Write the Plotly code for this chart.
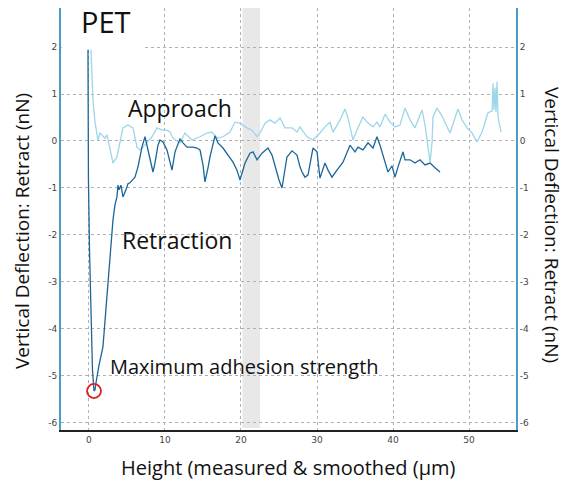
import plotly.graph_objects as go

# Retraction curve (Height in um, Vertical deflection in nN)
retract_x = [-0.13, -0.07, 0.07, 0.26, 0.46, 0.66, 0.79, 0.92, 1.05, 1.32, 1.84, 2.24, 2.50, 2.76,
             3.16, 3.42, 3.68, 3.82, 3.95, 4.21, 4.34, 4.47, 4.87, 5.13, 5.39, 5.79, 6.05, 6.45,
             6.71, 6.97, 7.37, 7.63, 8.03, 8.42, 8.68, 9.08, 9.34, 9.74, 10.26, 10.66, 10.92,
             11.32, 11.97, 12.37, 12.89, 13.29, 13.68, 14.21, 14.61, 15.00, 15.26, 15.66, 15.92,
             16.58, 16.97, 17.63, 18.29, 18.95, 19.47, 19.87, 20.53, 21.18, 21.58, 22.11, 22.76,
             23.55, 24.08, 24.47, 25.00, 25.39, 26.05, 26.71, 27.37, 27.76, 28.03, 28.42, 28.82,
             29.47, 30.00, 30.39, 31.05, 31.45, 31.97, 32.63, 33.42, 34.34, 35.00, 35.39, 36.05,
             36.71, 37.37, 37.89, 38.29, 38.95, 39.34, 39.87, 40.26, 40.66, 41.32, 41.58, 42.24,
             42.89, 43.55, 44.21, 44.87, 45.53, 46.18]
retract_y = [1.94, -0.83, -2.32, -3.81, -4.87, -5.32, -5.30, -5.15, -5.02, -4.77, -4.38, -3.60,
             -2.96, -2.57, -1.68, -1.36, -1.19, -0.94, -1.04, -0.94, -1.04, -1.19, -1.04, -0.91,
             -0.89, -0.83, -0.77, -0.55, -0.30, -0.13, 0.09, -0.09, -0.34, -0.66, -0.47, -0.09,
             0.02, -0.02, -0.19, -0.45, -0.62, -0.23, 0.04, -0.04, -0.13, -0.13, -0.13, -0.15,
             -0.19, -0.51, -0.87, -0.57, -0.34, 0.11, -0.04, -0.15, -0.30, -0.45, -0.62, -0.83,
             -0.47, -0.26, -0.23, -0.40, -0.26, -0.15, -0.30, -0.55, -0.83, -1.00, -0.34, -0.21,
             -0.30, -0.55, -0.66, -0.77, -0.72, -0.15, -0.23, -0.79, -0.47, -0.62, -0.77, -0.62,
             -0.45, -0.09, -0.23, -0.13, -0.19, -0.04, -0.15, 0.09, -0.09, -0.45, -0.66, -0.53,
             -0.77, -0.55, -0.23, -0.40, -0.40, -0.47, -0.40, -0.51, -0.47, -0.57, -0.66]

# Approach curve
approach_x = [0.26, 0.39, 0.53, 0.79, 1.05, 1.18, 1.45, 1.71, 2.11, 2.37, 2.76, 3.16, 3.68, 4.08,
              4.47, 5.13, 5.79, 6.32, 6.71, 7.11, 7.63, 8.29, 8.95, 9.61, 10.26, 10.66, 11.05,
              11.97, 12.63, 13.55, 14.61, 15.53, 16.18, 16.84, 17.63, 18.55, 19.21, 19.87, 20.79,
              21.45, 22.11, 22.50, 23.16, 23.82, 24.47, 25.13, 25.79, 26.71, 27.37, 27.76, 28.68,
              29.47, 30.39, 31.05, 31.71, 32.11, 33.03, 33.68, 34.08, 34.74, 35.39, 36.05, 36.71,
              37.37, 37.89, 38.29, 38.95, 39.61, 40.26, 40.92, 41.58, 42.24, 42.89, 43.82, 44.21,
              44.61, 44.87, 45.13, 45.26, 45.79, 46.45, 47.50, 48.55, 49.08, 49.74, 50.39, 51.05,
              51.71, 52.50, 53.03, 53.16, 53.29, 53.42, 53.55, 53.68, 53.82, 54.08, 54.21]
approach_y = [1.94, 1.30, 0.87, 0.40, 0.09, 0.02, 0.17, 0.13, 0.06, 0.13, -0.19, -0.47, -0.34,
              -0.04, 0.28, 0.34, 0.28, -0.13, -0.19, -0.13, -0.04, 0.09, 0.28, 0.23, 0.23, 0.19,
              0.06, -0.04, 0.17, 0.02, 0.09, 0.17, 0.19, 0.06, 0.09, 0.19, 0.40, 0.38, 0.28, 0.23,
              0.09, 0.17, 0.38, 0.45, 0.38, 0.49, 0.28, 0.28, 0.19, 0.30, 0.09, 0.02, 0.17, 0.30,
              0.40, 0.19, 0.45, 0.68, 0.49, 0.02, 0.28, 0.51, 0.38, 0.30, 0.40, 0.30, 0.57, 0.40,
              0.30, 0.34, 0.70, 0.45, 0.28, 0.66, 0.34, -0.19, -0.45, -0.04, 0.51, 0.70, 0.53,
              0.17, 0.68, 0.45, 0.28, 0.17, -0.02, 0.19, 0.60, 0.64, 1.23, 0.66, 1.13, 0.62, 1.26,
              0.51, 0.23, 0.19]

x_ticks = [0, 10, 20, 30, 40, 50]
y_ticks = [2, 1, 0, -1, -2, -3, -4, -5, -6]
y_ticktext = ["2", "1", "0", "-1", "-2", "-3", "-4", "-5", "-6"]

max_adhesion_x = 0.66
max_adhesion_y = -5.32

X_RANGE = [-3.68, 56.18]
Y_RANGE = [-6.15, 2.83]

FONT = "Open Sans"
AXIS_BLUE = "#4a9cc9"

fig = go.Figure()
fig.add_trace(go.Scatter(x=approach_x, y=approach_y, mode="lines",
                         line=dict(color="#9dd6ea", width=1.3), hoverinfo="skip"))
fig.add_trace(go.Scatter(x=retract_x, y=retract_y, mode="lines",
                         line=dict(color="#1b6699", width=1.3), hoverinfo="skip"))
# invisible trace to show right-hand axis
fig.add_trace(go.Scatter(x=[retract_x[0]], y=[retract_y[0]], yaxis="y2", mode="markers",
                         marker=dict(opacity=0), hoverinfo="skip"))

# gray band
fig.add_shape(type="rect", xref="x", yref="paper", x0=20.2, x1=22.5, y0=0.005, y1=1.0,
              fillcolor="#e8e8e8", line=dict(width=0), layer="below")
# white box behind title
fig.add_shape(type="rect", xref="x", yref="y", x0=X_RANGE[0] + 0.1, x1=7.37, y0=1.97, y1=Y_RANGE[1],
              fillcolor="white", line=dict(width=0), layer="above")
# red circle at max adhesion
fig.add_shape(type="circle", xref="x", yref="y",
              x0=max_adhesion_x - 0.92, x1=max_adhesion_x + 0.92,
              y0=max_adhesion_y - 0.15, y1=max_adhesion_y + 0.15,
              line=dict(color="#e02020", width=1.8))

grid = dict(showgrid=True, gridcolor="#b0b0b0", gridwidth=1, griddash="3px,3px", zeroline=False)
tickfont = dict(family="DejaVu Sans", size=9, color="#444")

fig.update_layout(
    width=566, height=486,
    margin=dict(l=61, r=50, t=8, b=56),
    plot_bgcolor="white", paper_bgcolor="white",
    showlegend=False,
    xaxis=dict(range=X_RANGE, tickvals=x_ticks, ticks="", showline=True, linecolor="#222",
               linewidth=1.5, tickfont=tickfont, **grid),
    yaxis=dict(range=Y_RANGE, tickvals=y_ticks, ticktext=y_ticktext, ticks="", showline=True,
               linecolor=AXIS_BLUE, linewidth=2, tickfont=tickfont, **grid),
    yaxis2=dict(range=Y_RANGE, overlaying="y", side="right", tickvals=y_ticks, ticktext=y_ticktext,
                ticks="", showline=True, linecolor=AXIS_BLUE, linewidth=2, showgrid=False, zeroline=False,
                tickfont=tickfont),
)

ann_font = dict(family=FONT, color="#111")
fig.add_annotation(text="PET", xref="paper", yref="paper", x=0.04, y=0.969, xanchor="left",
                   yanchor="middle", showarrow=False, font=dict(size=29, **ann_font))
fig.add_annotation(text="Approach", xref="x", yref="y", x=11.97, y=0.70, showarrow=False,
                   xanchor="center", yanchor="middle", font=dict(size=23, **ann_font))
fig.add_annotation(text="Retraction", xref="x", yref="y", x=11.58, y=-2.11, showarrow=False,
                   xanchor="center", yanchor="middle", font=dict(size=23, **ann_font))
fig.add_annotation(text="Maximum adhesion strength", xref="x", yref="y", x=2.5, y=-4.79,
                   xanchor="left", yanchor="middle", showarrow=False, font=dict(size=20, **ann_font))
fig.add_annotation(text="Vertical Deflection: Retract (nN)", xref="paper", yref="paper",
                   x=-0.0857, y=0.4716, xanchor="center", yanchor="middle", textangle=-90,
                   showarrow=False, font=dict(size=19, **ann_font))
fig.add_annotation(text="Vertical Deflection: Retract (nN)", xref="paper", yref="paper",
                   x=1.079, y=0.486, xanchor="center", yanchor="middle", textangle=90,
                   showarrow=False, font=dict(size=19, **ann_font))
fig.add_annotation(text="Height (measured & smoothed (µm)", xref="paper", yref="paper",
                   x=0.499, y=-0.090, xanchor="center", yanchor="middle",
                   showarrow=False, font=dict(size=20, **ann_font))

fig.write_html("out.html")
